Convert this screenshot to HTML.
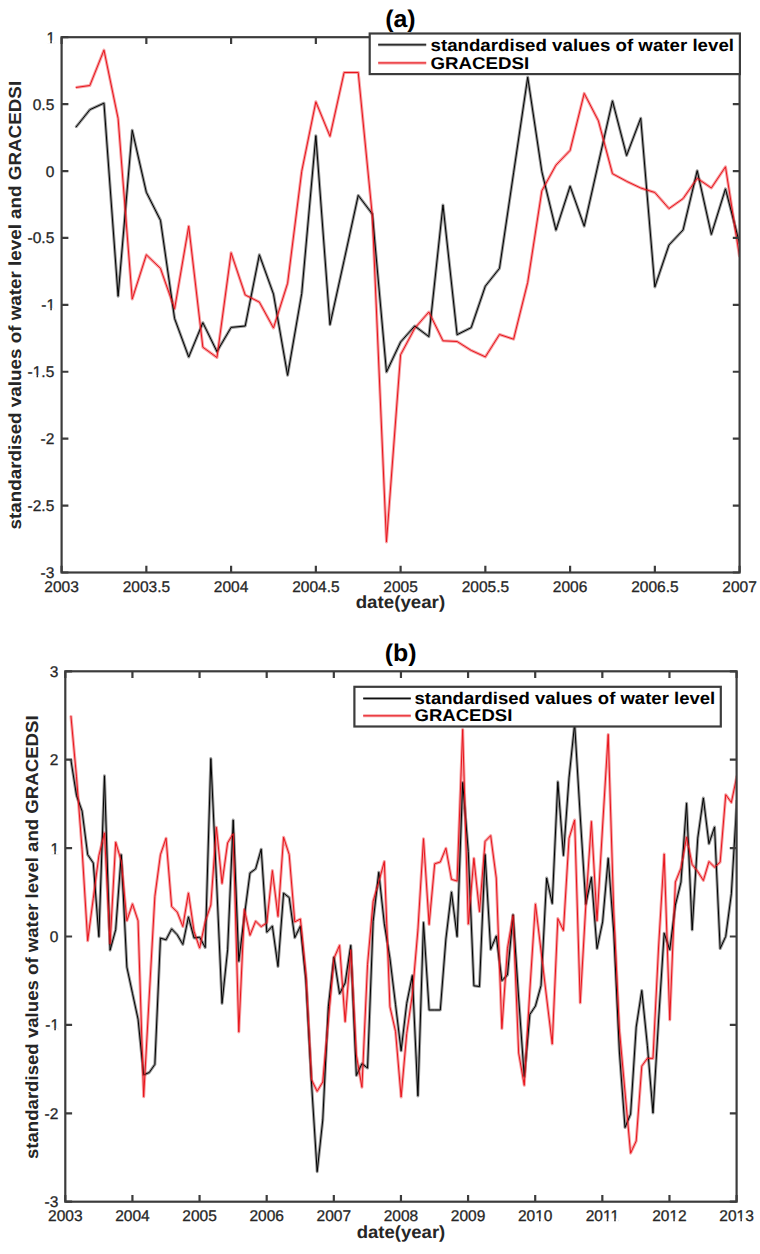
<!DOCTYPE html>
<html><head><meta charset="utf-8"><title>chart</title>
<style>html,body{margin:0;padding:0;background:#fff;}body{width:760px;height:1254px;overflow:hidden;font-family:"Liberation Sans",sans-serif;}svg{display:block;text-rendering:geometricPrecision;}</style>
</head><body>
<svg width="760" height="1254" viewBox="0 0 760 1254" font-family='&quot;Liberation Sans&quot;, sans-serif'>
<rect width="760" height="1254" fill="#fff"/>
<clipPath id="ca"><rect x="61.6" y="37.2" width="678" height="535.3"/></clipPath>
<g clip-path="url(#ca)" fill="none" stroke-linejoin="miter" stroke-miterlimit="10">
<polyline points="75.72,127.4 89.85,109.7 103.97,103.2 118.1,296.2 132.22,130.3 146.35,192.3 160.47,220.3 174.6,318.6 188.72,357 202.85,322.7 216.97,351.6 231.1,327.4 245.22,326 259.35,254.8 273.48,294.1 287.6,375.3 301.73,293.5 315.85,135.7 329.98,324.7 344.1,260.4 358.23,195.4 372.35,214 386.48,372 400.6,342 414.73,326 428.85,336.6 442.98,205 457.1,334.7 471.23,327.6 485.35,286.1 499.48,268.4 513.6,172.8 527.73,77.2 541.85,171.6 555.98,230.1 570.1,186.2 584.23,226.2 598.35,163.4 612.48,100.9 626.6,155.5 640.73,118.2 654.85,286.9 668.98,245 683.1,229.9 697.23,170.7 711.35,234.4 725.48,188.9 739.6,243.5" stroke="#000" stroke-width="3.0" stroke-opacity="0.4" stroke-linejoin="round"/>
<polyline points="75.72,87.5 89.85,85.5 103.97,50.1 118.1,118.5 132.22,299.1 146.35,254.8 160.47,268.4 174.6,308.8 188.72,226.2 202.85,347.2 216.97,357.5 231.1,252.8 245.22,295 259.35,302.1 273.48,328 287.6,283.3 301.73,171.3 315.85,101.8 329.98,136.3 344.1,72.5 358.23,72.5 372.35,216 386.48,541.9 400.6,354.7 414.73,328.3 428.85,312 442.98,340.8 457.1,341.5 471.23,350.4 485.35,356.9 499.48,334.5 513.6,339.2 527.73,282.3 541.85,190.8 555.98,165.1 570.1,150.4 584.23,93.4 598.35,120.7 612.48,173.7 626.6,181.3 640.73,188 654.85,192.5 668.98,208.6 683.1,198.6 697.23,178.3 711.35,188 725.48,166.8 739.6,257.1" stroke="#e8141b" stroke-width="3.0" stroke-opacity="0.4" stroke-linejoin="round"/>
<polyline points="75.72,127.4 89.85,109.7 103.97,103.2 118.1,296.2 132.22,130.3 146.35,192.3 160.47,220.3 174.6,318.6 188.72,357 202.85,322.7 216.97,351.6 231.1,327.4 245.22,326 259.35,254.8 273.48,294.1 287.6,375.3 301.73,293.5 315.85,135.7 329.98,324.7 344.1,260.4 358.23,195.4 372.35,214 386.48,372 400.6,342 414.73,326 428.85,336.6 442.98,205 457.1,334.7 471.23,327.6 485.35,286.1 499.48,268.4 513.6,172.8 527.73,77.2 541.85,171.6 555.98,230.1 570.1,186.2 584.23,226.2 598.35,163.4 612.48,100.9 626.6,155.5 640.73,118.2 654.85,286.9 668.98,245 683.1,229.9 697.23,170.7 711.35,234.4 725.48,188.9 739.6,243.5" stroke="#000" stroke-width="1.0"/>
<polyline points="75.72,87.5 89.85,85.5 103.97,50.1 118.1,118.5 132.22,299.1 146.35,254.8 160.47,268.4 174.6,308.8 188.72,226.2 202.85,347.2 216.97,357.5 231.1,252.8 245.22,295 259.35,302.1 273.48,328 287.6,283.3 301.73,171.3 315.85,101.8 329.98,136.3 344.1,72.5 358.23,72.5 372.35,216 386.48,541.9 400.6,354.7 414.73,328.3 428.85,312 442.98,340.8 457.1,341.5 471.23,350.4 485.35,356.9 499.48,334.5 513.6,339.2 527.73,282.3 541.85,190.8 555.98,165.1 570.1,150.4 584.23,93.4 598.35,120.7 612.48,173.7 626.6,181.3 640.73,188 654.85,192.5 668.98,208.6 683.1,198.6 697.23,178.3 711.35,188 725.48,166.8 739.6,257.1" stroke="#e8141b" stroke-width="1.0"/>
</g>
<path d="M61.6 572.5V565.7M61.6 37.2V44M146.35 572.5V565.7M146.35 37.2V44M231.1 572.5V565.7M231.1 37.2V44M315.85 572.5V565.7M315.85 37.2V44M400.6 572.5V565.7M400.6 37.2V44M485.35 572.5V565.7M485.35 37.2V44M570.1 572.5V565.7M570.1 37.2V44M654.85 572.5V565.7M654.85 37.2V44M739.6 572.5V565.7M739.6 37.2V44M61.6 572.5H68.4M739.6 572.5H732.8M61.6 505.59H68.4M739.6 505.59H732.8M61.6 438.68H68.4M739.6 438.68H732.8M61.6 371.76H68.4M739.6 371.76H732.8M61.6 304.85H68.4M739.6 304.85H732.8M61.6 237.94H68.4M739.6 237.94H732.8M61.6 171.03H68.4M739.6 171.03H732.8M61.6 104.11H68.4M739.6 104.11H732.8M61.6 37.2H68.4M739.6 37.2H732.8" stroke="#3c3c3c" stroke-width="2.2" fill="none"/>
<rect x="61.6" y="37.2" width="678" height="535.3" fill="none" stroke="#3c3c3c" stroke-width="2.2"/>
<text transform="translate(61.6,591.8)" font-size="15.5" stroke="#262626" stroke-width="0.3" text-anchor="middle" fill="#262626">2003</text>
<text transform="translate(146.35,591.8)" font-size="15.5" stroke="#262626" stroke-width="0.3" text-anchor="middle" fill="#262626">2003.5</text>
<text transform="translate(231.1,591.8)" font-size="15.5" stroke="#262626" stroke-width="0.3" text-anchor="middle" fill="#262626">2004</text>
<text transform="translate(315.85,591.8)" font-size="15.5" stroke="#262626" stroke-width="0.3" text-anchor="middle" fill="#262626">2004.5</text>
<text transform="translate(400.6,591.8)" font-size="15.5" stroke="#262626" stroke-width="0.3" text-anchor="middle" fill="#262626">2005</text>
<text transform="translate(485.35,591.8)" font-size="15.5" stroke="#262626" stroke-width="0.3" text-anchor="middle" fill="#262626">2005.5</text>
<text transform="translate(570.1,591.8)" font-size="15.5" stroke="#262626" stroke-width="0.3" text-anchor="middle" fill="#262626">2006</text>
<text transform="translate(654.85,591.8)" font-size="15.5" stroke="#262626" stroke-width="0.3" text-anchor="middle" fill="#262626">2006.5</text>
<text transform="translate(739.6,591.8)" font-size="15.5" stroke="#262626" stroke-width="0.3" text-anchor="middle" fill="#262626">2007</text>
<text transform="translate(54.3,578)" font-size="15.5" stroke="#262626" stroke-width="0.3" text-anchor="end" fill="#262626">-3</text>
<text transform="translate(54.3,511.09)" font-size="15.5" stroke="#262626" stroke-width="0.3" text-anchor="end" fill="#262626">-2.5</text>
<text transform="translate(54.3,444.18)" font-size="15.5" stroke="#262626" stroke-width="0.3" text-anchor="end" fill="#262626">-2</text>
<g transform="translate(54.3,377.26)"><text font-size="15.5" stroke="#262626" stroke-width="0.3" text-anchor="end" fill="#262626">-1.5</text><g fill="#fff"><rect x="-21.09" y="-2.27" width="3.37" height="3.41"/><rect x="-16.2" y="-2.27" width="3.13" height="3.41"/></g></g>
<g transform="translate(55.1,310.35)"><text font-size="15.5" stroke="#262626" stroke-width="0.3" text-anchor="end" fill="#262626">-1</text><g fill="#fff"><rect x="-8.17" y="-2.27" width="3.37" height="3.41"/><rect x="-3.28" y="-2.27" width="3.13" height="3.41"/></g></g>
<text transform="translate(54.3,243.44)" font-size="15.5" stroke="#262626" stroke-width="0.3" text-anchor="end" fill="#262626">-0.5</text>
<text transform="translate(54.3,176.53)" font-size="15.5" stroke="#262626" stroke-width="0.3" text-anchor="end" fill="#262626">0</text>
<text transform="translate(54.3,109.61)" font-size="15.5" stroke="#262626" stroke-width="0.3" text-anchor="end" fill="#262626">0.5</text>
<g transform="translate(55.1,42.7)"><text font-size="15.5" stroke="#262626" stroke-width="0.3" text-anchor="end" fill="#262626">1</text><g fill="#fff"><rect x="-8.17" y="-2.27" width="3.37" height="3.41"/><rect x="-3.28" y="-2.27" width="3.13" height="3.41"/></g></g>
<text transform="translate(400.4,607.8) scale(1.0700,1)" font-size="17.5" font-weight="bold" text-anchor="middle" fill="#262626">date(year)</text>
<text transform="translate(21.2,305.2) rotate(-90) scale(1.0753,1)" font-size="17.5" font-weight="bold" text-anchor="middle" fill="#262626">standardised values of water level and GRACEDSI</text>
<text transform="translate(400.4,26.6) scale(1.0400,1)" font-size="24" font-weight="bold" text-anchor="middle" fill="#000">(a)</text>
<rect x="369.7" y="33.5" width="370.2" height="40.6" fill="#fff" stroke="#3c3c3c" stroke-width="2.2"/>
<path d="M378.2 44.8H426.2" stroke="#000" stroke-width="3.0" stroke-opacity="0.4"/>
<path d="M378.2 44.8H426.2" stroke="#000" stroke-width="1.0"/>
<path d="M378.2 62.9H426.2" stroke="#e8141b" stroke-width="3.0" stroke-opacity="0.4"/>
<path d="M378.2 62.9H426.2" stroke="#e8141b" stroke-width="1.0"/>
<text transform="translate(430.5,50.8) scale(1.1000,1)" font-size="17" font-weight="bold" fill="#000">standardised values of water level</text>
<text transform="translate(430.5,68.8) scale(1.1000,1)" font-size="17" font-weight="bold" fill="#000">GRACEDSI</text>
<clipPath id="cb"><rect x="65.3" y="671.3" width="671.3" height="530.4"/></clipPath>
<g clip-path="url(#cb)" fill="none" stroke-linejoin="miter" stroke-miterlimit="10">
<polyline points="70.9,759.8 76.5,795.5 82.09,811.1 87.69,854.7 93.29,863 98.89,936.7 104.48,775.8 110.08,950.2 115.68,929.7 121.27,854.7 126.87,967.1 132.47,993.3 138.06,1019.2 143.66,1074.8 149.26,1072.5 154.86,1064.4 160.45,938.1 166.05,939.8 171.65,928.9 177.24,934.8 182.84,944.4 188.44,916.9 194.03,937.9 199.63,937.2 205.23,947.5 210.83,758.6 216.42,878.2 222.02,1003.4 227.62,949.9 233.21,820.1 238.81,961.3 244.41,915.6 250,873 255.6,868.9 261.2,849.2 266.8,932.2 272.39,926.1 277.99,966.5 283.59,893.2 289.18,897.5 294.78,937.7 300.38,926.2 305.97,980.8 311.57,1084.1 317.17,1171.7 322.76,1120 328.36,1006.7 333.96,957.2 339.56,993.8 345.15,983 350.75,945.4 356.35,1075.5 361.94,1063.7 367.54,1068 373.14,921.7 378.74,872.3 384.33,923.9 389.93,958.3 395.53,1004.5 401.12,1050.8 406.72,1003.4 412.32,975.5 417.91,1095.9 423.51,922.5 429.11,1010 434.71,1010 440.3,1010 445.9,939 451.5,892 457.09,936.6 462.69,782.5 468.29,851.6 473.88,985.8 479.48,986.5 485.08,854.6 490.68,949.4 496.27,936 501.87,980.6 507.47,975 513.06,914.8 518.66,998 524.26,1076.5 529.85,1014.5 535.45,1006 541.05,985.5 546.65,878 552.24,903.5 557.84,781.8 563.44,855.5 569.03,777.9 574.63,724 580.23,816 585.82,904.2 591.42,877.3 597.02,948.6 602.62,921.9 608.21,858.3 613.81,933 619.41,1052 625,1127.5 630.6,1114.1 636.2,1027.1 641.79,990.5 647.39,1045.5 652.99,1113 658.59,1020 664.18,933.2 669.78,949.8 675.38,905.1 680.97,882.1 686.57,803.3 692.17,930 697.76,838.1 703.36,798 708.96,843.7 714.56,827 720.15,948.6 725.75,936.3 731.35,893.9 736.94,800.2" stroke="#000" stroke-width="3.0" stroke-opacity="0.4" stroke-linejoin="round"/>
<polyline points="70.9,715.6 76.5,776.8 82.09,849.5 87.69,940.8 93.29,898.3 98.89,855.7 104.48,832.9 110.08,943.9 115.68,842.2 121.27,861 126.87,920.8 132.47,903.9 138.06,920.8 143.66,1096.8 149.26,996 154.86,896.4 160.45,854.7 166.05,838.2 171.65,906.5 177.24,912.1 182.84,926.5 188.44,893 194.03,931.2 199.63,948 205.23,921.7 210.83,905 216.42,827.3 222.02,883.4 227.62,842.9 233.21,833.6 238.81,1031.9 244.41,909.4 250,935.3 255.6,921.2 261.2,926.6 266.8,922.9 272.39,870.6 277.99,916.4 283.59,837.2 289.18,854.5 294.78,921.9 300.38,919 305.97,975 311.57,1079.8 317.17,1091.3 322.76,1082 328.36,1020 333.96,958.3 339.56,945.4 345.15,1021.7 350.75,949.7 356.35,1055 361.94,1087.3 367.54,964.7 373.14,901.3 378.74,881.9 384.33,861.5 389.93,1006.7 395.53,1031.4 401.12,1097 406.72,1033.5 412.32,994.8 417.91,930 423.51,838.7 429.11,924.5 434.71,863.8 440.3,862 445.9,848.2 451.5,879.4 457.09,881 462.69,729.4 468.29,924.1 473.88,858.3 479.48,911.6 485.08,841.4 490.68,835.6 496.27,878 501.87,1028.6 507.47,948.3 513.06,915.5 518.66,1053 524.26,1085.3 529.85,990 535.45,904 541.05,951 546.65,998 552.24,1044 557.84,918.6 563.44,930.5 569.03,838.4 574.63,820 580.23,1002.9 585.82,905 591.42,821.5 597.02,920.8 602.62,826 608.21,734.4 613.81,913 619.41,1030 625,1092 630.6,1153.2 636.2,1141 641.79,1066.1 647.39,1058.3 652.99,1058.4 658.59,947 664.18,854 669.78,1020 675.38,882.1 680.97,868.1 686.57,837.2 692.17,864.5 697.76,871.6 703.36,880.5 708.96,861.6 714.56,867.1 720.15,862.2 725.75,794.7 731.35,802.5 736.94,775.7" stroke="#e8141b" stroke-width="3.0" stroke-opacity="0.4" stroke-linejoin="round"/>
<polyline points="70.9,759.8 76.5,795.5 82.09,811.1 87.69,854.7 93.29,863 98.89,936.7 104.48,775.8 110.08,950.2 115.68,929.7 121.27,854.7 126.87,967.1 132.47,993.3 138.06,1019.2 143.66,1074.8 149.26,1072.5 154.86,1064.4 160.45,938.1 166.05,939.8 171.65,928.9 177.24,934.8 182.84,944.4 188.44,916.9 194.03,937.9 199.63,937.2 205.23,947.5 210.83,758.6 216.42,878.2 222.02,1003.4 227.62,949.9 233.21,820.1 238.81,961.3 244.41,915.6 250,873 255.6,868.9 261.2,849.2 266.8,932.2 272.39,926.1 277.99,966.5 283.59,893.2 289.18,897.5 294.78,937.7 300.38,926.2 305.97,980.8 311.57,1084.1 317.17,1171.7 322.76,1120 328.36,1006.7 333.96,957.2 339.56,993.8 345.15,983 350.75,945.4 356.35,1075.5 361.94,1063.7 367.54,1068 373.14,921.7 378.74,872.3 384.33,923.9 389.93,958.3 395.53,1004.5 401.12,1050.8 406.72,1003.4 412.32,975.5 417.91,1095.9 423.51,922.5 429.11,1010 434.71,1010 440.3,1010 445.9,939 451.5,892 457.09,936.6 462.69,782.5 468.29,851.6 473.88,985.8 479.48,986.5 485.08,854.6 490.68,949.4 496.27,936 501.87,980.6 507.47,975 513.06,914.8 518.66,998 524.26,1076.5 529.85,1014.5 535.45,1006 541.05,985.5 546.65,878 552.24,903.5 557.84,781.8 563.44,855.5 569.03,777.9 574.63,724 580.23,816 585.82,904.2 591.42,877.3 597.02,948.6 602.62,921.9 608.21,858.3 613.81,933 619.41,1052 625,1127.5 630.6,1114.1 636.2,1027.1 641.79,990.5 647.39,1045.5 652.99,1113 658.59,1020 664.18,933.2 669.78,949.8 675.38,905.1 680.97,882.1 686.57,803.3 692.17,930 697.76,838.1 703.36,798 708.96,843.7 714.56,827 720.15,948.6 725.75,936.3 731.35,893.9 736.94,800.2" stroke="#000" stroke-width="1.0"/>
<polyline points="70.9,715.6 76.5,776.8 82.09,849.5 87.69,940.8 93.29,898.3 98.89,855.7 104.48,832.9 110.08,943.9 115.68,842.2 121.27,861 126.87,920.8 132.47,903.9 138.06,920.8 143.66,1096.8 149.26,996 154.86,896.4 160.45,854.7 166.05,838.2 171.65,906.5 177.24,912.1 182.84,926.5 188.44,893 194.03,931.2 199.63,948 205.23,921.7 210.83,905 216.42,827.3 222.02,883.4 227.62,842.9 233.21,833.6 238.81,1031.9 244.41,909.4 250,935.3 255.6,921.2 261.2,926.6 266.8,922.9 272.39,870.6 277.99,916.4 283.59,837.2 289.18,854.5 294.78,921.9 300.38,919 305.97,975 311.57,1079.8 317.17,1091.3 322.76,1082 328.36,1020 333.96,958.3 339.56,945.4 345.15,1021.7 350.75,949.7 356.35,1055 361.94,1087.3 367.54,964.7 373.14,901.3 378.74,881.9 384.33,861.5 389.93,1006.7 395.53,1031.4 401.12,1097 406.72,1033.5 412.32,994.8 417.91,930 423.51,838.7 429.11,924.5 434.71,863.8 440.3,862 445.9,848.2 451.5,879.4 457.09,881 462.69,729.4 468.29,924.1 473.88,858.3 479.48,911.6 485.08,841.4 490.68,835.6 496.27,878 501.87,1028.6 507.47,948.3 513.06,915.5 518.66,1053 524.26,1085.3 529.85,990 535.45,904 541.05,951 546.65,998 552.24,1044 557.84,918.6 563.44,930.5 569.03,838.4 574.63,820 580.23,1002.9 585.82,905 591.42,821.5 597.02,920.8 602.62,826 608.21,734.4 613.81,913 619.41,1030 625,1092 630.6,1153.2 636.2,1141 641.79,1066.1 647.39,1058.3 652.99,1058.4 658.59,947 664.18,854 669.78,1020 675.38,882.1 680.97,868.1 686.57,837.2 692.17,864.5 697.76,871.6 703.36,880.5 708.96,861.6 714.56,867.1 720.15,862.2 725.75,794.7 731.35,802.5 736.94,775.7" stroke="#e8141b" stroke-width="1.0"/>
</g>
<path d="M65.3 1201.7V1194.9M65.3 671.3V678.1M132.43 1201.7V1194.9M132.43 671.3V678.1M199.56 1201.7V1194.9M199.56 671.3V678.1M266.69 1201.7V1194.9M266.69 671.3V678.1M333.82 1201.7V1194.9M333.82 671.3V678.1M400.95 1201.7V1194.9M400.95 671.3V678.1M468.08 1201.7V1194.9M468.08 671.3V678.1M535.21 1201.7V1194.9M535.21 671.3V678.1M602.34 1201.7V1194.9M602.34 671.3V678.1M669.47 1201.7V1194.9M669.47 671.3V678.1M736.6 1201.7V1194.9M736.6 671.3V678.1M65.3 1201.7H72.1M736.6 1201.7H729.8M65.3 1113.3H72.1M736.6 1113.3H729.8M65.3 1024.9H72.1M736.6 1024.9H729.8M65.3 936.5H72.1M736.6 936.5H729.8M65.3 848.1H72.1M736.6 848.1H729.8M65.3 759.7H72.1M736.6 759.7H729.8M65.3 671.3H72.1M736.6 671.3H729.8" stroke="#3c3c3c" stroke-width="2.2" fill="none"/>
<rect x="65.3" y="671.3" width="671.3" height="530.4" fill="none" stroke="#3c3c3c" stroke-width="2.2"/>
<text transform="translate(65.3,1220.8)" font-size="15.5" stroke="#262626" stroke-width="0.3" text-anchor="middle" fill="#262626">2003</text>
<text transform="translate(132.43,1220.8)" font-size="15.5" stroke="#262626" stroke-width="0.3" text-anchor="middle" fill="#262626">2004</text>
<text transform="translate(199.56,1220.8)" font-size="15.5" stroke="#262626" stroke-width="0.3" text-anchor="middle" fill="#262626">2005</text>
<text transform="translate(266.69,1220.8)" font-size="15.5" stroke="#262626" stroke-width="0.3" text-anchor="middle" fill="#262626">2006</text>
<text transform="translate(333.82,1220.8)" font-size="15.5" stroke="#262626" stroke-width="0.3" text-anchor="middle" fill="#262626">2007</text>
<text transform="translate(400.95,1220.8)" font-size="15.5" stroke="#262626" stroke-width="0.3" text-anchor="middle" fill="#262626">2008</text>
<text transform="translate(468.08,1220.8)" font-size="15.5" stroke="#262626" stroke-width="0.3" text-anchor="middle" fill="#262626">2009</text>
<g transform="translate(535.21,1220.8)"><text font-size="15.5" stroke="#262626" stroke-width="0.3" text-anchor="middle" fill="#262626">2010</text><g fill="#fff"><rect x="0.45" y="-2.27" width="3.37" height="3.41"/><rect x="5.34" y="-2.27" width="3.13" height="3.41"/></g></g>
<g transform="translate(602.34,1220.8)"><text font-size="15.5" stroke="#262626" stroke-width="0.3" text-anchor="middle" fill="#262626">2011</text><g fill="#fff"><rect x="1.03" y="-2.27" width="3.37" height="3.41"/><rect x="5.92" y="-2.27" width="3.13" height="3.41"/><rect x="8.5" y="-2.27" width="3.37" height="3.41"/><rect x="13.39" y="-2.27" width="3.13" height="3.41"/></g></g>
<g transform="translate(669.47,1220.8)"><text font-size="15.5" stroke="#262626" stroke-width="0.3" text-anchor="middle" fill="#262626">2012</text><g fill="#fff"><rect x="0.45" y="-2.27" width="3.37" height="3.41"/><rect x="5.34" y="-2.27" width="3.13" height="3.41"/></g></g>
<g transform="translate(736.6,1220.8)"><text font-size="15.5" stroke="#262626" stroke-width="0.3" text-anchor="middle" fill="#262626">2013</text><g fill="#fff"><rect x="0.45" y="-2.27" width="3.37" height="3.41"/><rect x="5.34" y="-2.27" width="3.13" height="3.41"/></g></g>
<text transform="translate(58.3,1207.2)" font-size="15.5" stroke="#262626" stroke-width="0.3" text-anchor="end" fill="#262626">-3</text>
<text transform="translate(58.3,1118.8)" font-size="15.5" stroke="#262626" stroke-width="0.3" text-anchor="end" fill="#262626">-2</text>
<g transform="translate(59.1,1030.4)"><text font-size="15.5" stroke="#262626" stroke-width="0.3" text-anchor="end" fill="#262626">-1</text><g fill="#fff"><rect x="-8.17" y="-2.27" width="3.37" height="3.41"/><rect x="-3.28" y="-2.27" width="3.13" height="3.41"/></g></g>
<text transform="translate(58.3,942)" font-size="15.5" stroke="#262626" stroke-width="0.3" text-anchor="end" fill="#262626">0</text>
<g transform="translate(59.1,853.6)"><text font-size="15.5" stroke="#262626" stroke-width="0.3" text-anchor="end" fill="#262626">1</text><g fill="#fff"><rect x="-8.17" y="-2.27" width="3.37" height="3.41"/><rect x="-3.28" y="-2.27" width="3.13" height="3.41"/></g></g>
<text transform="translate(58.3,765.2)" font-size="15.5" stroke="#262626" stroke-width="0.3" text-anchor="end" fill="#262626">2</text>
<text transform="translate(58.3,676.8)" font-size="15.5" stroke="#262626" stroke-width="0.3" text-anchor="end" fill="#262626">3</text>
<text transform="translate(401,1237.6) scale(1.0590,1)" font-size="17.5" font-weight="bold" text-anchor="middle" fill="#262626">date(year)</text>
<text transform="translate(37.9,937.25) rotate(-90) scale(1.0635,1)" font-size="17.5" font-weight="bold" text-anchor="middle" fill="#262626">standardised values of water level and GRACEDSI</text>
<text transform="translate(400.6,661.4) scale(1.0400,1)" font-size="24" font-weight="bold" text-anchor="middle" fill="#000">(b)</text>
<rect x="354.4" y="686.8" width="366.4" height="39.7" fill="#fff" stroke="#3c3c3c" stroke-width="2.2"/>
<path d="M363.2 698.4H410.8" stroke="#000" stroke-width="3.0" stroke-opacity="0.4"/>
<path d="M363.2 698.4H410.8" stroke="#000" stroke-width="1.0"/>
<path d="M363.2 715.8H410.8" stroke="#e8141b" stroke-width="3.0" stroke-opacity="0.4"/>
<path d="M363.2 715.8H410.8" stroke="#e8141b" stroke-width="1.0"/>
<text transform="translate(414.5,704.2) scale(1.0900,1)" font-size="17" font-weight="bold" fill="#000">standardised values of water level</text>
<text transform="translate(414.5,721) scale(1.0900,1)" font-size="17" font-weight="bold" fill="#000">GRACEDSI</text>
</svg>
</body></html>
